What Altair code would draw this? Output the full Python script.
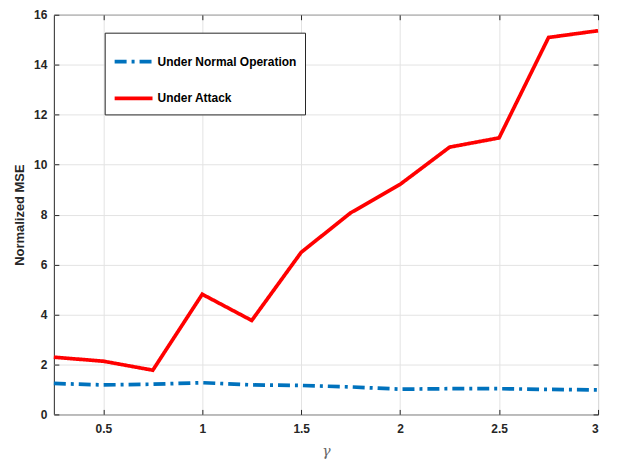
import altair as alt
import pandas as pd

gamma = [0.25, 0.5, 0.75, 1.0, 1.25, 1.5, 1.75, 2.0, 2.25, 2.5, 2.75, 3.0]
normal = [1.24, 1.18, 1.21, 1.27, 1.18, 1.16, 1.10, 1.01, 1.03, 1.03, 1.00, 0.98]
attack = [2.29, 2.13, 1.77, 4.81, 3.76, 6.49, 8.07, 9.21, 10.70, 11.07, 15.09, 15.36]
series = ["Under Normal Operation", "Under Attack"]
colors = ["#0072BD", "#FF0000"]
dashes = [[12, 5, 3, 5], [1, 0]]
x_ticks = [0.5, 1.0, 1.5, 2.0, 2.5, 3.0]
y_ticks = [0, 2, 4, 6, 8, 10, 12, 14, 16]

rows = []
for g, v in zip(gamma, normal):
    rows.append({"gamma": g, "mse": v, "series": series[0]})
for g, v in zip(gamma, attack):
    rows.append({"gamma": g, "mse": v, "series": series[1]})
df = pd.DataFrame(rows)

FONT = "Liberation Sans"
xscale = alt.Scale(domain=[0.25, 3], nice=False, zero=False)
yscale = alt.Scale(domain=[0, 16], nice=False)

lines = alt.Chart(df).mark_line(strokeWidth=3.7, strokeCap="butt", strokeJoin="miter").encode(
    x=alt.X("gamma:Q", scale=xscale,
            axis=alt.Axis(orient="bottom", offset=-5, values=x_ticks, grid=True,
                          format="~g", labelPadding=9, title="γ",
                          titleFont="DejaVu Serif", titleFontStyle="italic",
                          titleFontWeight="normal", titleFontSize=14,
                          titleColor="#666666", titlePadding=10)),
    y=alt.Y("mse:Q", scale=yscale,
            axis=alt.Axis(orient="left", offset=-5, values=y_ticks, grid=True,
                          labelPadding=7, title="Normalized MSE",
                          titleFont=FONT, titleFontWeight="bold", titleFontSize=13,
                          titleColor="#262626", titlePadding=7)),
    color=alt.Color("series:N", scale=alt.Scale(domain=series, range=colors), title=None,
                    legend=alt.Legend(orient="none", legendX=51, legendY=18)),
    strokeDash=alt.StrokeDash("series:N", scale=alt.Scale(domain=series, range=dashes), title=None,
                              legend=alt.Legend(orient="none", legendX=51, legendY=18)),
)

frame = alt.Chart(df).mark_point(opacity=0).encode(
    x=alt.X("gamma:Q", scale=xscale,
            axis=alt.Axis(orient="top", offset=-5, values=x_ticks, labels=False, grid=False, title=None)),
    y=alt.Y("mse:Q", scale=yscale,
            axis=alt.Axis(orient="right", offset=-5, values=y_ticks, labels=False, grid=False, title=None)),
)

chart = alt.layer(lines, frame).resolve_axis(x="independent", y="independent").properties(
    width=546, height=401,
    autosize=alt.AutoSizeParams(type="none"),
    padding={"left": 46, "top": 6, "right": 12, "bottom": 50},
).configure_view(
    stroke="#262626", strokeWidth=1
).configure_axis(
    domain=False, tickColor="#262626", tickSize=5, tickWidth=1,
    gridColor="#e3e3e3", gridWidth=1,
    labelFont=FONT, labelFontWeight="bold", labelFontSize=12, labelColor="#262626",
).configure_legend(
    symbolType="stroke", symbolSize=1444, symbolStrokeWidth=3.7,
    labelFont=FONT, labelFontWeight="bold", labelFontSize=12, labelColor="#000000",
    strokeColor="#262626", fillColor="#ffffff", padding=8, rowPadding=8,
    labelOffset=3, symbolOffset=0,
)

chart.save("out.html", embed_options={"renderer": "svg", "actions": False})
